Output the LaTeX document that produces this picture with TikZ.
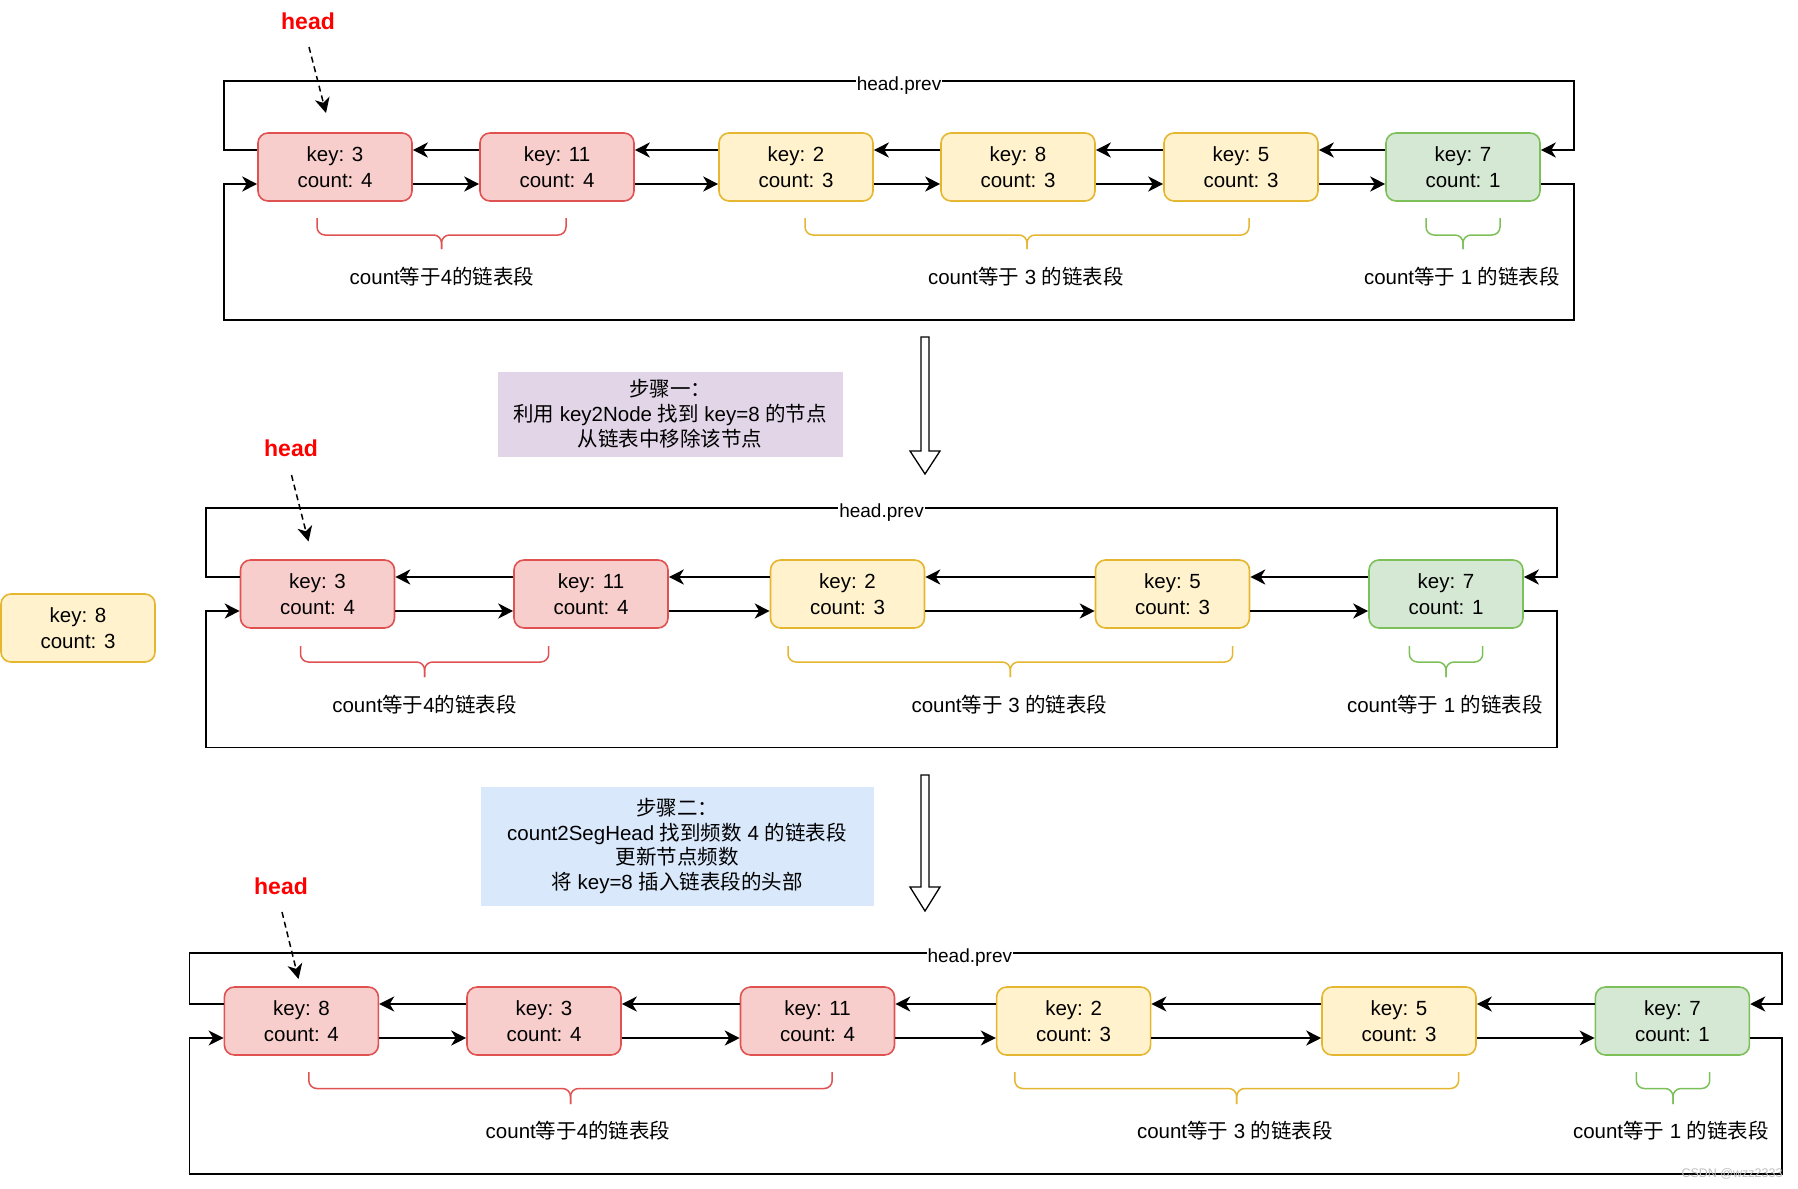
\documentclass[tikz,border=0pt]{standalone}
\usepackage{fontspec}
\setmainfont{Liberation Sans}
\newfontfamily\cjk{Noto Sans CJK SC}
\usetikzlibrary{arrows.meta}

\definecolor{redfill}{HTML}{F8CECC}
\definecolor{redline}{HTML}{E05252}
\definecolor{yellowfill}{HTML}{FFF2CC}
\definecolor{yellowline}{HTML}{E5B62F}
\definecolor{greenfill}{HTML}{D5E8D4}
\definecolor{greenline}{HTML}{7DC05A}
\definecolor{purplefill}{HTML}{E1D5E7}
\definecolor{bluefill}{HTML}{DAE8FC}
\definecolor{headred}{HTML}{FF0000}

\newcommand{\zh}[1]{{\cjk #1}}

\begin{document}
\begin{tikzpicture}[x=1pt, y=-1pt,
	kbox/.style={draw, rounded corners=10pt, line width=1.6pt, minimum width=154pt, minimum height=68pt, inner sep=0pt, align=center, font=\fontsize{20.5}{26}\selectfont},
	rnode/.style={kbox, fill=redfill, draw=redline},
	ynode/.style={kbox, fill=yellowfill, draw=yellowline},
	gnode/.style={kbox, fill=greenfill, draw=greenline},
	link/.style={line width=1.8pt, -{Stealth[length=15pt, width=15pt, inset=4.5pt]}},
	ptr/.style={link, line width=1.5pt, dash pattern=on 6pt off 4pt},
	hp/.style={fill=white, inner sep=1pt, yshift=-5pt, font=\fontsize{19}{22}\selectfont},
	seg/.style={line width=1.5pt, rounded corners=8pt},
	seglabel/.style={inner sep=0pt, font=\fontsize{20.5}{24}\selectfont},
	headlabel/.style={inner sep=0pt, text=headred, font=\fontsize{23}{26}\selectfont\bfseries},
	stepnote/.style={align=center, inner sep=0pt, font=\fontsize{20.5}{25}\selectfont},
	hollow/.style={line width=1.3pt, fill=white, line join=miter}
	]
	\useasboundingbox (0, 0) rectangle (1798, 1188);
	
	% 第一行
	% nodes
	\node [rnode] (r1a) at (335, 167) {key: 3\\count: 4};
	\node [rnode] (r1b) at (557, 167) {key: 11\\count: 4};
	\node [ynode] (r1c) at (796, 167) {key: 2\\count: 3};
	\node [ynode] (r1d) at (1018, 167) {key: 8\\count: 3};
	\node [ynode] (r1e) at (1241, 167) {key: 5\\count: 3};
	\node [gnode] (r1f) at (1463, 167) {key: 7\\count: 1};
	% lines
	\draw [link] ([yshift=17pt]r1b.west) -- ([yshift=17pt]r1a.east);
	\draw [link] ([yshift=-17pt]r1a.east) -- ([yshift=-17pt]r1b.west);
	\draw [link] ([yshift=17pt]r1c.west) -- ([yshift=17pt]r1b.east);
	\draw [link] ([yshift=-17pt]r1b.east) -- ([yshift=-17pt]r1c.west);
	\draw [link] ([yshift=17pt]r1d.west) -- ([yshift=17pt]r1c.east);
	\draw [link] ([yshift=-17pt]r1c.east) -- ([yshift=-17pt]r1d.west);
	\draw [link] ([yshift=17pt]r1e.west) -- ([yshift=17pt]r1d.east);
	\draw [link] ([yshift=-17pt]r1d.east) -- ([yshift=-17pt]r1e.west);
	\draw [link] ([yshift=17pt]r1f.west) -- ([yshift=17pt]r1e.east);
	\draw [link] ([yshift=-17pt]r1e.east) -- ([yshift=-17pt]r1f.west);
	\coordinate (r1tl) at (224, 81);
	\coordinate (r1tr) at (1574, 81);
	\coordinate (r1bl) at (224, 320);
	\coordinate (r1br) at (1574, 320);
	\draw [link] ([yshift=17pt]r1a.west) -| (r1tl) -- node [hp] {head.prev} (r1tr) |- ([yshift=17pt]r1f.east);
	\draw [link] ([yshift=-17pt]r1f.east) -| (r1br) -- (r1bl) |- ([yshift=-17pt]r1a.west);
	% head
	\node [headlabel] (h1) at (308, 21) {head};
	\coordinate (h1s) at (309, 47);
	\coordinate (h1e) at (326, 113);
	\draw [ptr] (h1s) -- (h1e);
	% 链表段
	\draw [seg, redline] (317, 218) |- (441.5, 235) -- (441.5, 249);
	\draw [seg, redline] (566, 218) |- (441.5, 235) -- (441.5, 249);
	\draw [seg, yellowline] (805, 218) |- (1027, 235) -- (1027, 249);
	\draw [seg, yellowline] (1249, 218) |- (1027, 235) -- (1027, 249);
	\draw [seg, greenline] (1426, 218) |- (1463, 235) -- (1463, 249);
	\draw [seg, greenline] (1500, 218) |- (1463, 235) -- (1463, 249);
	\node [seglabel] (l1a) at (442, 277) {count\zh{等于}4\zh{的链表段}};
	\node [seglabel] (l1b) at (1026, 277) {count\zh{等于} 3 \zh{的链表段}};
	\node [seglabel] (l1c) at (1462, 277) {count\zh{等于} 1 \zh{的链表段}};
	
	% 步骤一
	\node [stepnote, fill=purplefill, minimum width=345pt, minimum height=85pt] (s1) at (670, 414) {\zh{步骤一：}\\\zh{利用} key2Node \zh{找到} key=8 \zh{的节点}\\\zh{从链表中移除该节点}};
	\draw [hollow] (921, 337) -- (929, 337) -- (929, 451) -- (940, 451) -- (925, 474) -- (910, 451) -- (921, 451) -- cycle;
	
	% 第二行
	% nodes
	\node [ynode] (r2x) at (78, 628) {key: 8\\count: 3};
	\node [rnode] (r2a) at (317.5, 594) {key: 3\\count: 4};
	\node [rnode] (r2b) at (591, 594) {key: 11\\count: 4};
	\node [ynode] (r2c) at (847.5, 594) {key: 2\\count: 3};
	\node [ynode] (r2d) at (1172.5, 594) {key: 5\\count: 3};
	\node [gnode] (r2e) at (1446, 594) {key: 7\\count: 1};
	% lines
	\draw [link] ([yshift=17pt]r2b.west) -- ([yshift=17pt]r2a.east);
	\draw [link] ([yshift=-17pt]r2a.east) -- ([yshift=-17pt]r2b.west);
	\draw [link] ([yshift=17pt]r2c.west) -- ([yshift=17pt]r2b.east);
	\draw [link] ([yshift=-17pt]r2b.east) -- ([yshift=-17pt]r2c.west);
	\draw [link] ([yshift=17pt]r2d.west) -- ([yshift=17pt]r2c.east);
	\draw [link] ([yshift=-17pt]r2c.east) -- ([yshift=-17pt]r2d.west);
	\draw [link] ([yshift=17pt]r2e.west) -- ([yshift=17pt]r2d.east);
	\draw [link] ([yshift=-17pt]r2d.east) -- ([yshift=-17pt]r2e.west);
	\coordinate (r2tl) at (206, 508);
	\coordinate (r2tr) at (1557, 508);
	\coordinate (r2bl) at (206, 747.5);
	\coordinate (r2br) at (1557, 747.5);
	\draw [link] ([yshift=17pt]r2a.west) -| (r2tl) -- node [hp] {head.prev} (r2tr) |- ([yshift=17pt]r2e.east);
	\draw [link] ([yshift=-17pt]r2e.east) -| (r2br) -- (r2bl) |- ([yshift=-17pt]r2a.west);
	% head
	\node [headlabel] (h2) at (291, 448) {head};
	\coordinate (h2s) at (291.5, 475);
	\coordinate (h2e) at (308.5, 541.5);
	\draw [ptr] (h2s) -- (h2e);
	% 链表段
	\draw [seg, redline] (300.5, 646) |- (424.6, 662) -- (424.6, 677);
	\draw [seg, redline] (548.7, 646) |- (424.6, 662) -- (424.6, 677);
	\draw [seg, yellowline] (788, 646) |- (1010.3, 662) -- (1010.3, 677);
	\draw [seg, yellowline] (1232.7, 646) |- (1010.3, 662) -- (1010.3, 677);
	\draw [seg, greenline] (1409.4, 646) |- (1446, 662) -- (1446, 677);
	\draw [seg, greenline] (1482.7, 646) |- (1446, 662) -- (1446, 677);
	\node [seglabel] (l2a) at (424.6, 705) {count\zh{等于}4\zh{的链表段}};
	\node [seglabel] (l2b) at (1009.5, 705) {count\zh{等于} 3 \zh{的链表段}};
	\node [seglabel] (l2c) at (1445, 705) {count\zh{等于} 1 \zh{的链表段}};
	
	% 步骤二
	\node [stepnote, fill=bluefill, minimum width=393pt, minimum height=119pt, font=\fontsize{20.5}{24.5}\selectfont] (s2) at (677, 846) {\zh{步骤二：}\\count2SegHead \zh{找到频数} 4 \zh{的链表段}\\\zh{更新节点频数}\\\zh{将} key=8 \zh{插入链表段的头部}};
	\draw [hollow] (921, 775) -- (929, 775) -- (929, 887) -- (940, 887) -- (925, 911) -- (910, 887) -- (921, 887) -- cycle;
	
	% 第三行
	% nodes
	\node [rnode] (r3a) at (301.4, 1021) {key: 8\\count: 4};
	\node [rnode] (r3b) at (544, 1021) {key: 3\\count: 4};
	\node [rnode] (r3c) at (817.5, 1021) {key: 11\\count: 4};
	\node [ynode] (r3d) at (1073.6, 1021) {key: 2\\count: 3};
	\node [ynode] (r3e) at (1399, 1021) {key: 5\\count: 3};
	\node [gnode] (r3f) at (1672.4, 1021) {key: 7\\count: 1};
	% lines
	\draw [link] ([yshift=17pt]r3b.west) -- ([yshift=17pt]r3a.east);
	\draw [link] ([yshift=-17pt]r3a.east) -- ([yshift=-17pt]r3b.west);
	\draw [link] ([yshift=17pt]r3c.west) -- ([yshift=17pt]r3b.east);
	\draw [link] ([yshift=-17pt]r3b.east) -- ([yshift=-17pt]r3c.west);
	\draw [link] ([yshift=17pt]r3d.west) -- ([yshift=17pt]r3c.east);
	\draw [link] ([yshift=-17pt]r3c.east) -- ([yshift=-17pt]r3d.west);
	\draw [link] ([yshift=17pt]r3e.west) -- ([yshift=17pt]r3d.east);
	\draw [link] ([yshift=-17pt]r3d.east) -- ([yshift=-17pt]r3e.west);
	\draw [link] ([yshift=17pt]r3f.west) -- ([yshift=17pt]r3e.east);
	\draw [link] ([yshift=-17pt]r3e.east) -- ([yshift=-17pt]r3f.west);
	\coordinate (r3tl) at (189.5, 953);
	\coordinate (r3tr) at (1782, 953);
	\coordinate (r3bl) at (189.5, 1174);
	\coordinate (r3br) at (1782, 1174);
	\draw [link] ([yshift=17pt]r3a.west) -| (r3tl) -- node [hp, pos=.49] {head.prev} (r3tr) |- ([yshift=17pt]r3f.east);
	\draw [link] ([yshift=-17pt]r3f.east) -| (r3br) -- (r3bl) |- ([yshift=-17pt]r3a.west);
	% head
	\node [headlabel] (h3) at (281, 886) {head};
	\coordinate (h3s) at (282, 912);
	\coordinate (h3e) at (298.5, 979);
	\draw [ptr] (h3s) -- (h3e);
	% 链表段
	\draw [seg, redline] (308.8, 1072) |- (570.5, 1088.5) -- (570.5, 1104);
	\draw [seg, redline] (832.2, 1072) |- (570.5, 1088.5) -- (570.5, 1104);
	\draw [seg, yellowline] (1014.8, 1072) |- (1236.7, 1088.5) -- (1236.7, 1104);
	\draw [seg, yellowline] (1458.6, 1072) |- (1236.7, 1088.5) -- (1236.7, 1104);
	\draw [seg, greenline] (1636.3, 1072) |- (1673, 1088.5) -- (1673, 1104);
	\draw [seg, greenline] (1709.7, 1072) |- (1673, 1088.5) -- (1673, 1104);
	\node [seglabel] (l3a) at (578, 1131) {count\zh{等于}4\zh{的链表段}};
	\node [seglabel] (l3b) at (1235, 1131) {count\zh{等于} 3 \zh{的链表段}};
	\node [seglabel] (l3c) at (1671, 1131) {count\zh{等于} 1 \zh{的链表段}};
	
	% 水印
	\node [inner sep=0pt, text=black!25, font=\fontsize{12.5}{14}\selectfont] (mark) at (1732, 1174) {CSDN @wzz2333};
\end{tikzpicture}
\end{document}
